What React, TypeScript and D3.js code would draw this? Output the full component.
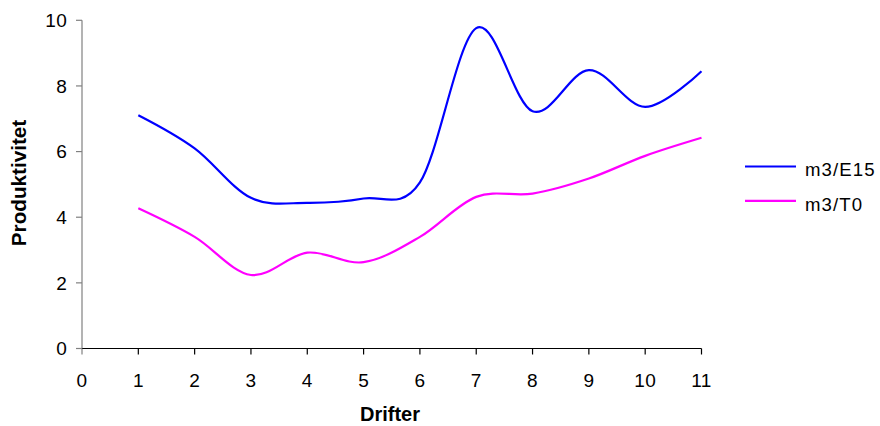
import React from "react";
import * as d3 from "d3";

const drifter = [1, 2, 3, 4, 5, 6, 7, 8, 9, 10, 11];
const e15 = [7.11, 6.1, 4.59, 4.44, 4.57, 5.06, 9.76, 7.23, 8.48, 7.36, 8.45];
const t0 = [4.27, 3.4, 2.24, 2.92, 2.63, 3.4, 4.62, 4.72, 5.18, 5.87, 6.42];
const xTicks = [0, 1, 2, 3, 4, 5, 6, 7, 8, 9, 10, 11];
const yTicks = [0, 2, 4, 6, 8, 10];
const seriesNames = ["m3/E15", "m3/T0"];
const seriesColors = ["#0000ff", "#ff00ff"];

export default function App() {
  const W = 880, H = 426;
  const x = d3.scaleLinear().domain([0, 11]).range([82, 701.5]);
  const y = d3.scaleLinear().domain([0, 10]).range([348.5, 20.3]);
  const line = d3
    .line<number>()
    .x((_, i) => x(drifter[i]))
    .y((d) => y(d))
    .curve(d3.curveCardinal.tension(0));
  const series = [e15, t0];
  const font = "'Liberation Sans', Arial, sans-serif";
  return (
    <svg width={W} height={H} style={{ position: "absolute", left: 0, top: 0 }} fontFamily={font}>
      <rect width={W} height={H} fill="#fff" />
      {/* y axis */}
      <line x1={x(0)} x2={x(0)} y1={y(0)} y2={y(10)} stroke="#808080" strokeWidth={1.2} />
      {yTicks.map((t) => (
        <g key={t}>
          <line x1={x(0) - 6} x2={x(0)} y1={y(t)} y2={y(t)} stroke="#808080" strokeWidth={1.2} />
          <text x={x(0) - 15} y={y(t)} dy="0.36em" textAnchor="end" fontSize={19} letterSpacing={0.3} fill="#000">
            {t}
          </text>
        </g>
      ))}
      {/* x axis */}
      <line x1={x(0)} x2={x(11)} y1={y(0)} y2={y(0)} stroke="#000" strokeWidth={1.2} />
      {xTicks.map((t) => (
        <g key={t}>
          <line x1={x(t)} x2={x(t)} y1={y(0)} y2={y(0) + 6} stroke={t === 0 ? "#808080" : "#000"} strokeWidth={1.2} />
          <text x={x(t)} y={386.7} textAnchor="middle" fontSize={19} letterSpacing={0.3} fill="#000">
            {t}
          </text>
        </g>
      ))}
      {series.map((s, i) => (
        <path key={i} d={line(s) || ""} fill="none" stroke={seriesColors[i]} strokeWidth={2.2} />
      ))}
      <text x={390} y={421} textAnchor="middle" fontSize={20} fontWeight="bold" fill="#000">
        Drifter
      </text>
      <text
        transform={`translate(25.5,183) rotate(-90)`}
        textAnchor="middle"
        fontSize={20.7}
        fontWeight="bold"
        fill="#000"
      >
        Produktivitet
      </text>
      {seriesNames.map((n, i) => (
        <g key={n}>
          <line x1={745} x2={796} y1={166.5 + i * 34.3} y2={166.5 + i * 34.3} stroke={seriesColors[i]} strokeWidth={2.2} />
          <text x={805} y={176 + i * 34.5} fontSize={18.6} letterSpacing={1.1} fill="#000">
            {n}
          </text>
        </g>
      ))}
    </svg>
  );
}
